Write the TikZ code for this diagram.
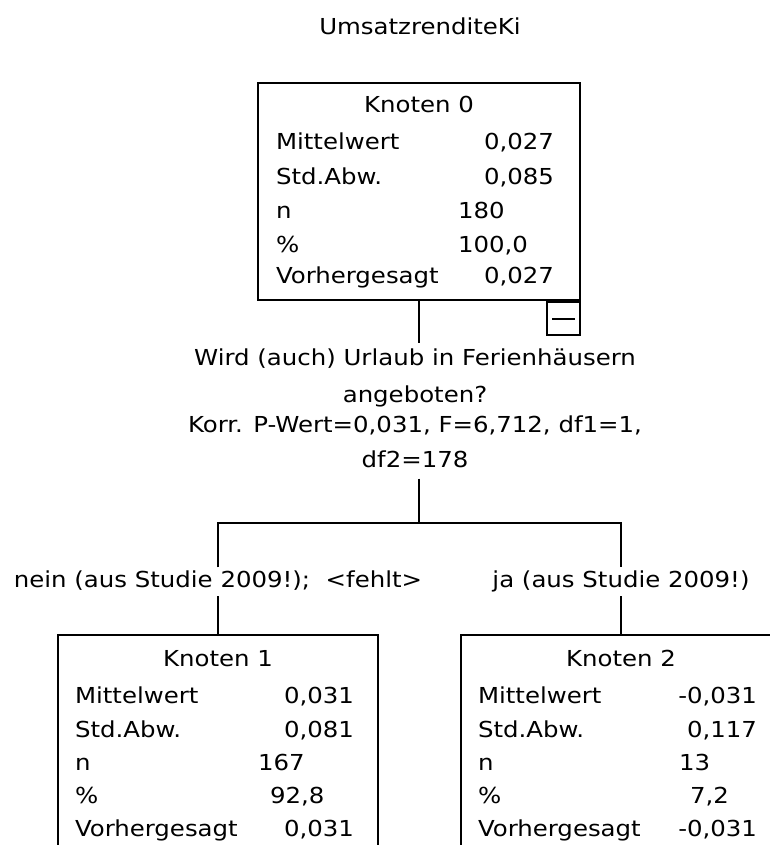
\documentclass[tikz,border=0pt]{standalone}
\usepackage{fontspec}
\setmainfont[FakeStretch=1.11]{DejaVu Sans}
\tikzset{
  knoten/.style={draw, line width=1.5pt, inner sep=0pt},
  links/.style={anchor=base west, inner sep=0pt},
  rechts/.style={anchor=base east, inner sep=0pt},
  mitte/.style={anchor=base, inner sep=2pt, text height=12pt, text depth=4pt},
  frage/.style={anchor=base, inner sep=4pt, text height=12pt, text depth=4pt},
}
\begin{document}
\begin{tikzpicture}[x=0.75pt, y=-0.75pt, line width=1.5pt, font=\fontsize{16.5}{19}\selectfont]
    \useasboundingbox (0,0) rectangle (769,845);
    \node[anchor=base] (titel) at (420,35) {UmsatzrenditeKi};
    % Knoten 0
    \node[knoten, minimum width=241.5pt, minimum height=162.75pt] (k0) at (419,191.5) {};
    \node[knoten, minimum size=24.75pt, anchor=north east] (knopf) at (k0.south east) {};
    \draw ([xshift=4.5pt]knopf.west) -- ([xshift=-4.5pt]knopf.east);
    \node[anchor=base, inner sep=0pt] (k0name) at (419,113) {Knoten 0};
    \node[links] (k0a) at (275,150) {Mittelwert};
    \node[rechts] (k0av) at (555,150) {0,027};
    \node[links] (k0b) at (275,185) {Std.Abw.};
    \node[rechts] (k0bv) at (555,185) {0,085};
    \node[links] (k0c) at (275,218) {n};
    \node[links] (k0cv) at (457,218) {180};
    \node[links] (k0d) at (275,252) {\%};
    \node[links] (k0dv) at (457,252) {100,0};
    \node[links] (k0e) at (275,283) {Vorhergesagt};
    \node[rechts] (k0ev) at (555,283) {0,027};
    % Aufteilung
    \node[frage] (f1) at (415,365) {Wird (auch) Urlaub in Ferienhäusern};
    \node[frage] (f2) at (415,402) {angeboten?};
    \node[frage] (f3) at (415,432) {Korr. P-Wert=0,031, F=6,712, df1=1,};
    \node[frage] (f4) at (415,467) {df2=178};
    \coordinate (gabel) at (419,523);
    \node[mitte] (nein) at (218,587) {nein (aus Studie 2009!);\ \ <fehlt>};
    \node[mitte] (ja) at (621,587) {ja (aus Studie 2009!)};
    \draw (k0.south) -- (k0.south |- f1.north);
    \draw (k0.south |- f4.south) -- (gabel);
    \draw (nein.north) |- (gabel) -| (ja.north);
    % Knoten 1
    \node[knoten, minimum width=240pt, minimum height=200pt, anchor=north] (k1) at (218,634) {};
    \draw (nein.south) -- (k1.north);
    \node[anchor=base, inner sep=0pt] (k1name) at (218,666) {Knoten 1};
    \node[links] (k1a) at (74,703) {Mittelwert};
    \node[rechts] (k1av) at (355,703) {0,031};
    \node[links] (k1b) at (74,737) {Std.Abw.};
    \node[rechts] (k1bv) at (355,737) {0,081};
    \node[links] (k1c) at (74,770) {n};
    \node[links] (k1cv) at (257,770) {167};
    \node[links] (k1d) at (74,803) {\%};
    \node[links] (k1dv) at (269,803) {92,8};
    \node[links] (k1e) at (74,836) {Vorhergesagt};
    \node[rechts] (k1ev) at (355,836) {0,031};
    % Knoten 2
    \node[knoten, minimum width=240pt, minimum height=200pt, anchor=north] (k2) at (621,634) {};
    \draw (ja.south) -- (k2.north);
    \node[anchor=base, inner sep=0pt] (k2name) at (621,666) {Knoten 2};
    \node[links] (k2a) at (477,703) {Mittelwert};
    \node[rechts] (k2av) at (758,703) {-0,031};
    \node[links] (k2b) at (477,737) {Std.Abw.};
    \node[rechts] (k2bv) at (758,737) {0,117};
    \node[links] (k2c) at (477,770) {n};
    \node[links] (k2cv) at (678,770) {13};
    \node[links] (k2d) at (477,803) {\%};
    \node[links] (k2dv) at (689,803) {7,2};
    \node[links] (k2e) at (477,836) {Vorhergesagt};
    \node[rechts] (k2ev) at (758,836) {-0,031};
\end{tikzpicture}
\end{document}
